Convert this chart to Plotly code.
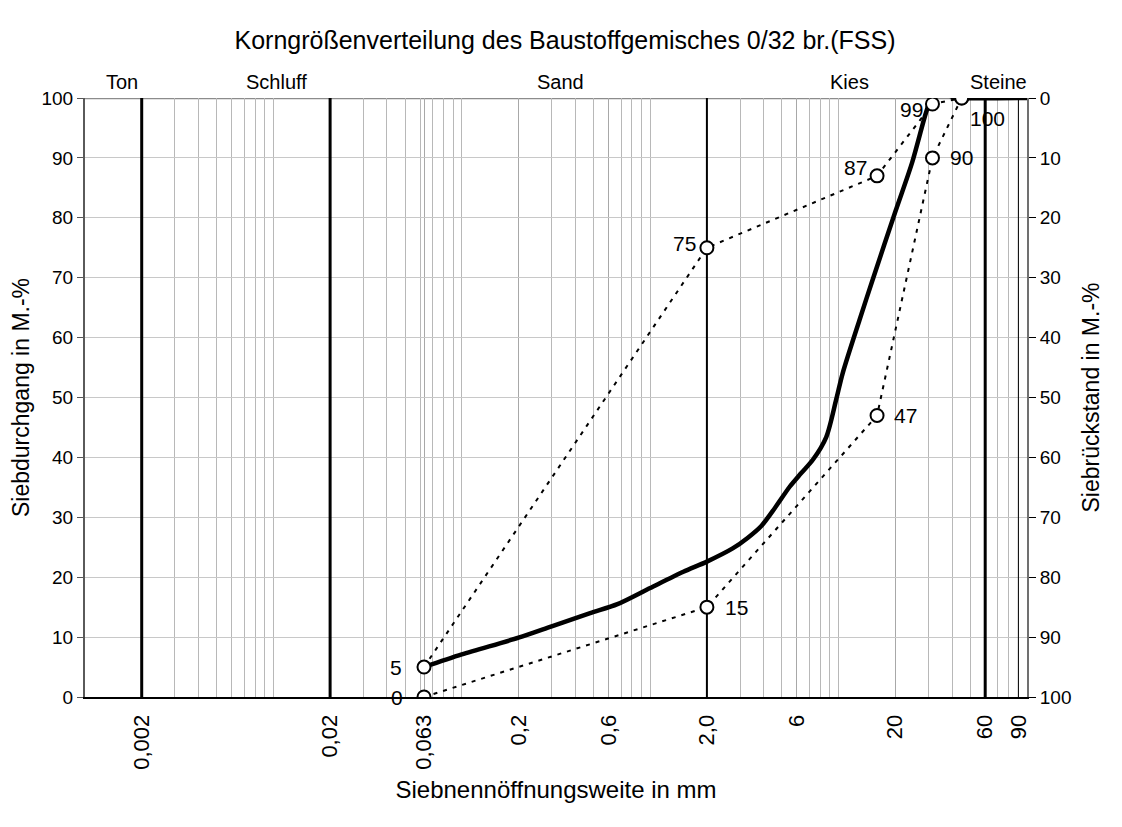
import math
import plotly.graph_objects as go

# ---------------- data ----------------
curve_x = [0.063, 0.1, 0.2, 0.3, 0.48, 0.67, 1.0, 1.5, 2.0, 2.74, 3.3, 3.9, 4.6, 5.5, 6.3, 7.3, 8.6, 9.7,
           10.5, 12.9, 15.1, 20, 24.6, 29.2, 31.3, 35.6, 40, 44, 100]
curve_y = [5, 7.1, 9.9, 11.8, 14.0, 15.5, 18.2, 20.9, 22.6, 24.8, 26.6, 28.6, 31.6, 35.1, 37.3, 39.6, 43.4, 49.6,
           54.0, 62.9, 69.5, 81, 89.3, 97.7, 100.2, 101, 100.2, 100, 100]

upper_x = [0.063, 2.0, 16, 31.5, 45]
upper_y = [5, 75, 87, 99, 100]
upper_labels = ["5", "75", "87", "99", ""]

lower_x = [0.063, 2.0, 16, 31.5, 45]
lower_y = [0, 15, 47, 90, 100]
lower_labels = ["0", "15", "47", "90", "100"]

# label placement (style): anchor side and pixel offsets per point
upper_anchor = ["right", "right", "right", "right", "left"]
upper_dx = [-20, -9, -8, -7, 0]
upper_dy = [0, 4, 8, -6, 0]
lower_anchor = ["right", "left", "left", "left", "left"]
lower_dx = [-19, 16, 15, 16, 6]
lower_dy = [0, 0, 0, 0, -20]

tick_vals = [0.002, 0.02, 0.063, 0.2, 0.6, 2.0, 6, 20, 60, 90]
tick_text = ["0,002", "0,02", "0,063", "0,2", "0,6", "2,0", "6", "20", "60", "90"]

zone_names = ["Ton", "Schluff", "Sand", "Kies", "Steine"]
zone_pos = [0.00157, 0.0104, 0.334, 11.4, 71]

boundaries = [0.002, 0.02, 2.0, 60, 90]
boundary_widths = [3, 3, 2, 3, 1]

title = "Korngrößenverteilung des Baustoffgemisches 0/32 br.(FSS)"
x_title = "Siebnennöffnungsweite in mm"
y_title = "Siebdurchgang in M.-%"
y2_title = "Siebrückstand in M.-%"

FONT = "Liberation Sans, Arial, sans-serif"

minor_vals = [d * 10 ** e for e in range(-3, 2) for d in range(1, 10)] + [100]

fig = go.Figure()

# limit lines (dashed)
fig.add_trace(go.Scatter(x=upper_x, y=upper_y, mode="lines",
                         line=dict(color="black", width=2, dash="4px,6px"),
                         hoverinfo="skip", showlegend=False))
fig.add_trace(go.Scatter(x=lower_x, y=lower_y, mode="lines",
                         line=dict(color="black", width=2, dash="4px,6px"),
                         hoverinfo="skip", showlegend=False))

# sieve curve
fig.add_trace(go.Scatter(x=curve_x, y=curve_y, mode="lines",
                         line=dict(color="black", width=4.5, shape="spline", smoothing=0.8),
                         showlegend=False))

# markers
for xs, ys in ((upper_x, upper_y), (lower_x, lower_y)):
    fig.add_trace(go.Scatter(x=xs, y=ys, mode="markers",
                             marker=dict(symbol="circle", size=13, color="white",
                                         line=dict(color="black", width=2)),
                             showlegend=False))

# invisible trace to activate right axis
fig.add_trace(go.Scatter(x=[0.01], y=[50], yaxis="y2", mode="markers",
                         marker=dict(opacity=0), hoverinfo="skip", showlegend=False))

shapes = []
for bx, bw in zip(boundaries, boundary_widths):
    shapes.append(dict(type="line", xref="x", yref="y", x0=bx, x1=bx, y0=0, y1=100,
                       line=dict(color="black", width=bw), layer="between"))
shapes.append(dict(type="line", xref="paper", yref="y", x0=0, x1=1, y0=100, y1=100,
                   line=dict(color="#8c8c8c", width=2.5), layer="between"))

annotations = []
for name, px in zip(zone_names, zone_pos):
    annotations.append(dict(x=math.log10(px), y=1, xref="x", yref="paper",
                            text=name, showarrow=False, yanchor="bottom", yshift=3,
                            font=dict(family=FONT, size=20, color="black")))

for xs, ys, labels, anch, dxs, dys in ((upper_x, upper_y, upper_labels, upper_anchor, upper_dx, upper_dy),
                                       (lower_x, lower_y, lower_labels, lower_anchor, lower_dx, lower_dy)):
    for xv, yv, lab, a, dx, dy in zip(xs, ys, labels, anch, dxs, dys):
        if not lab:
            continue
        annotations.append(dict(x=math.log10(xv), y=yv, xref="x", yref="y", text=lab,
                                showarrow=False, xanchor=a, yanchor="middle",
                                xshift=dx, yshift=dy,
                                font=dict(family=FONT, size=21, color="black")))

fig.update_layout(
    width=1114, height=819,
    margin=dict(l=75, r=95, t=90, b=130),
    paper_bgcolor="white", plot_bgcolor="white",
    font=dict(family=FONT, color="black"),
    title=dict(text=title, x=0.5, xanchor="center", y=0.961, yanchor="middle",
               font=dict(family=FONT, size=25, color="black")),
    shapes=shapes,
    annotations=annotations,
    xaxis=dict(type="log", range=[-3, 2], tickmode="array", tickvals=tick_vals,
               ticktext=tick_text, tickangle=-90, ticks="", ticklabelstandoff=7,
               tickfont=dict(family=FONT, size=22, color="black"),
               showgrid=True, gridcolor="#a8a8a8", gridwidth=1,
               minor=dict(tickmode="array", tickvals=minor_vals, showgrid=True,
                          gridcolor="#b8b8b8", gridwidth=1, ticks=""),
               showline=True, linecolor="black", linewidth=2,
               zeroline=False,
               title=dict(text=x_title, font=dict(family=FONT, size=24, color="black"),
                          standoff=12)),
    yaxis=dict(range=[0, 100], dtick=10, tick0=0, ticks="outside", ticklen=6,
               tickcolor="#555555",
               tickfont=dict(family=FONT, size=19, color="black"),
               showgrid=True, gridcolor="#c8c8c8", gridwidth=1,
               showline=True, linecolor="#5a5a5a", linewidth=2, zeroline=False,
               title=dict(text=y_title, font=dict(family=FONT, size=23, color="black"),
                          standoff=5)),
    yaxis2=dict(range=[100, 0], dtick=10, tick0=0, overlaying="y", side="right",
                ticks="outside", ticklen=7, tickcolor="black",
                tickfont=dict(family=FONT, size=19, color="black"),
                showgrid=False, showline=True, linecolor="#707070", linewidth=2,
                zeroline=False,
                title=dict(text=y2_title, font=dict(family=FONT, size=23, color="black"),
                           standoff=12)),
)

fig.write_html("out.html")
